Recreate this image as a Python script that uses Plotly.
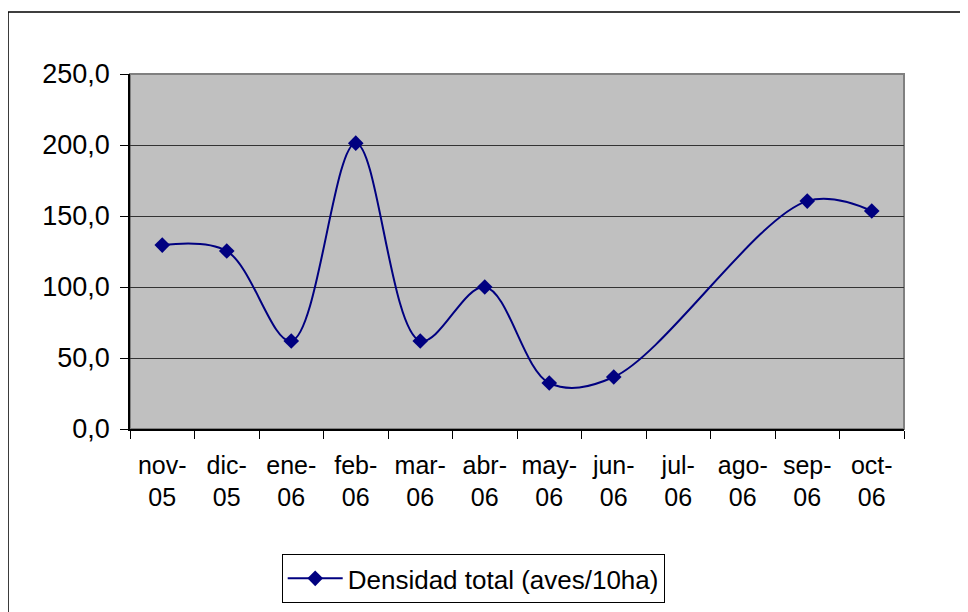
import plotly.graph_objects as go

categories = ["nov-<br>05", "dic-<br>05", "ene-<br>06", "feb-<br>06", "mar-<br>06", "abr-<br>06",
              "may-<br>06", "jun-<br>06", "jul-<br>06", "ago-<br>06", "sep-<br>06", "oct-<br>06"]
densidad = [129.5, 125.3, 62.0, 201.3, 62.0, 100.0, 32.4, 36.6, None, None, 160.5, 153.5]
series_name = "Densidad total (aves/10ha)"
y_ticks = [0, 50, 100, 150, 200, 250]

FONT = "Liberation Sans, Arial, sans-serif"
NAVY = "#000080"

fig = go.Figure()
fig.add_trace(go.Scatter(
    x=categories, y=densidad, name=series_name,
    mode="lines+markers", connectgaps=True,
    line=dict(color=NAVY, width=2, shape="spline", smoothing=1),
    marker=dict(symbol="diamond", size=12, color=NAVY),
))

fig.update_layout(
    width=968, height=612,
    margin=dict(l=122, r=72, t=66, b=191),
    paper_bgcolor="white", plot_bgcolor="#C0C0C0",
    separators=",.",
    font=dict(family=FONT, size=25, color="black"),
    showlegend=True,
    legend=dict(x=0.196, y=-0.352, xanchor="left", yanchor="top",
                bordercolor="black", borderwidth=1, bgcolor="white",
                font=dict(size=26), itemwidth=55),
    shapes=[
        dict(type="rect", xref="paper", yref="paper", x0=0, x1=1, y0=0, y1=1,
             line=dict(color="#808080", width=2), layer="below"),
        dict(type="rect", xref="paper", yref="paper", x0=-0.1576, x1=1.1, y0=-0.6, y1=1.1746,
             line=dict(color="black", width=1.5), layer="below"),
    ],
)
fig.update_xaxes(
    type="category", range=[-0.5, 11.5], tickson="boundaries",
    ticks="outside", ticklen=8, tickcolor="black",
    showline=True, linecolor="black", linewidth=1.5,
    showgrid=False, tickfont=dict(size=25), ticklabelstandoff=13, tickangle=0,
)
fig.update_yaxes(
    range=[0, 250], tickvals=y_ticks, tickformat=".1f",
    ticks="outside", ticklen=8, tickcolor="black",
    showline=True, linecolor="black", linewidth=1.5,
    showgrid=True, gridcolor="#333333", gridwidth=1,
    zeroline=False, tickfont=dict(size=27), ticklabelstandoff=5,
)

fig.write_html("out.html")
